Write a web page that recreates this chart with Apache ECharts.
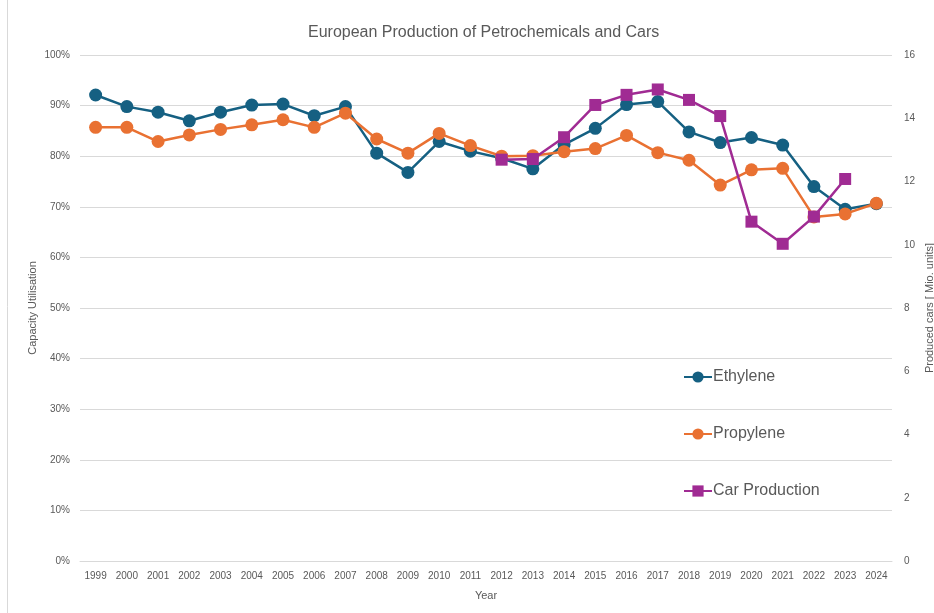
<!DOCTYPE html>
<html>
<head>
<meta charset="utf-8">
<script src="https://cdn.jsdelivr.net/npm/echarts@6/dist/echarts.min.js"></script>
<style>
  html, body { margin: 0; padding: 0; background: #fff; }
  #chart { width: 934px; height: 613px; }
</style>
</head>
<body>
<div id="chart"></div>
<script>
  // data
  var years = ['1999', '2000', '2001', '2002', '2003', '2004', '2005', '2006', '2007', '2008',
    '2009', '2010', '2011', '2012', '2013', '2014', '2015', '2016', '2017', '2018',
    '2019', '2020', '2021', '2022', '2023', '2024'];
  // capacity utilisation in %
  var ethylene = [92.1, 89.8, 88.7, 87.0, 88.7, 90.1, 90.3, 88.0, 89.8, 80.6,
    76.8, 82.9, 81.0, 79.6, 77.5, 82.3, 85.5, 90.2, 90.8, 84.8,
    82.7, 83.7, 82.2, 74.0, 69.5, 70.6];
  var propylene = [85.7, 85.7, 82.9, 84.2, 85.3, 86.2, 87.2, 85.7, 88.5, 83.4,
    80.6, 84.5, 82.1, 80.0, 80.1, 80.9, 81.5, 84.1, 80.7, 79.2,
    74.3, 77.3, 77.6, 68.0, 68.6, 70.7];
  // produced cars in million units
  var cars = [null, null, null, null, null, null, null, null, null, null,
    null, null, null, 12.69, 12.71, 13.40, 14.42, 14.74, 14.91, 14.58,
    14.07, 10.73, 10.03, 10.89, 12.08, null];

  var textColor = '#595959';
  var font = '"Liberation Sans", sans-serif';

  var chart = echarts.init(document.getElementById('chart'));
  chart.setOption({
    animation: false,
    title: {
      text: 'European Production of Petrochemicals and Cars',
      left: 303,
      top: 20,
      textStyle: { fontSize: 16, fontWeight: 'normal', color: textColor, fontFamily: font }
    },
    graphic: [{
      type: 'line',
      shape: { x1: 7.5, y1: 0, x2: 7.5, y2: 613 },
      style: { stroke: '#d9d9d9', lineWidth: 1 }
    }],
    legend: {
      orient: 'vertical',
      left: 683,
      top: 369,
      padding: 0,
      itemGap: 41,
      itemWidth: 28,
      itemHeight: 14,
      textStyle: { fontSize: 16, color: textColor, padding: [0, 0, 0, -4], fontFamily: font },
      data: ['Ethylene', 'Propylene', 'Car Production']
    },
    grid: { left: 80, right: 42, top: 55, bottom: 52, outerBoundsMode: 'none' },
    xAxis: {
      type: 'category',
      data: years,
      name: 'Year',
      nameLocation: 'middle',
      nameGap: 29,
      nameMoveOverlap: false,
      nameTextStyle: { fontSize: 11, color: textColor, fontFamily: font },
      axisLine: { lineStyle: { color: '#d9d9d9' } },
      axisTick: { show: false },
      axisLabel: { interval: 0, fontSize: 10, color: textColor, margin: 10, fontFamily: font }
    },
    yAxis: [{
      type: 'value',
      min: 0,
      max: 100,
      interval: 10,
      name: 'Capacity Utilisation',
      nameLocation: 'middle',
      nameGap: 42,
      nameMoveOverlap: false,
      nameTextStyle: { fontSize: 11, color: textColor, fontFamily: font },
      axisLine: { show: false },
      axisTick: { show: false },
      axisLabel: { formatter: '{value}%', fontSize: 10, color: textColor, margin: 10, fontFamily: font },
      splitLine: { lineStyle: { color: '#d9d9d9' } }
    }, {
      type: 'value',
      min: 0,
      max: 16,
      interval: 2,
      name: 'Produced cars [ Mio. units]',
      nameLocation: 'middle',
      nameGap: 32,
      nameRotate: 90,
      nameMoveOverlap: false,
      nameTextStyle: { fontSize: 11, color: textColor, fontFamily: font },
      axisLine: { show: false },
      axisTick: { show: false },
      axisLabel: { fontSize: 10, color: textColor, margin: 12, fontFamily: font },
      splitLine: { show: false }
    }],
    series: [{
      name: 'Ethylene',
      type: 'line',
      data: ethylene,
      symbol: 'circle',
      symbolSize: 13,
      itemStyle: { color: '#156082' },
      lineStyle: { width: 2.5, color: '#156082' },
      z: 3
    }, {
      name: 'Propylene',
      type: 'line',
      data: propylene,
      symbol: 'circle',
      symbolSize: 13,
      itemStyle: { color: '#E97132' },
      lineStyle: { width: 2.5, color: '#E97132' },
      z: 4
    }, {
      name: 'Car Production',
      type: 'line',
      yAxisIndex: 1,
      data: cars,
      symbol: 'rect',
      symbolSize: 12,
      itemStyle: { color: '#A02B93' },
      lineStyle: { width: 2.5, color: '#A02B93' },
      z: 5
    }]
  });
</script>
</body>
</html>
